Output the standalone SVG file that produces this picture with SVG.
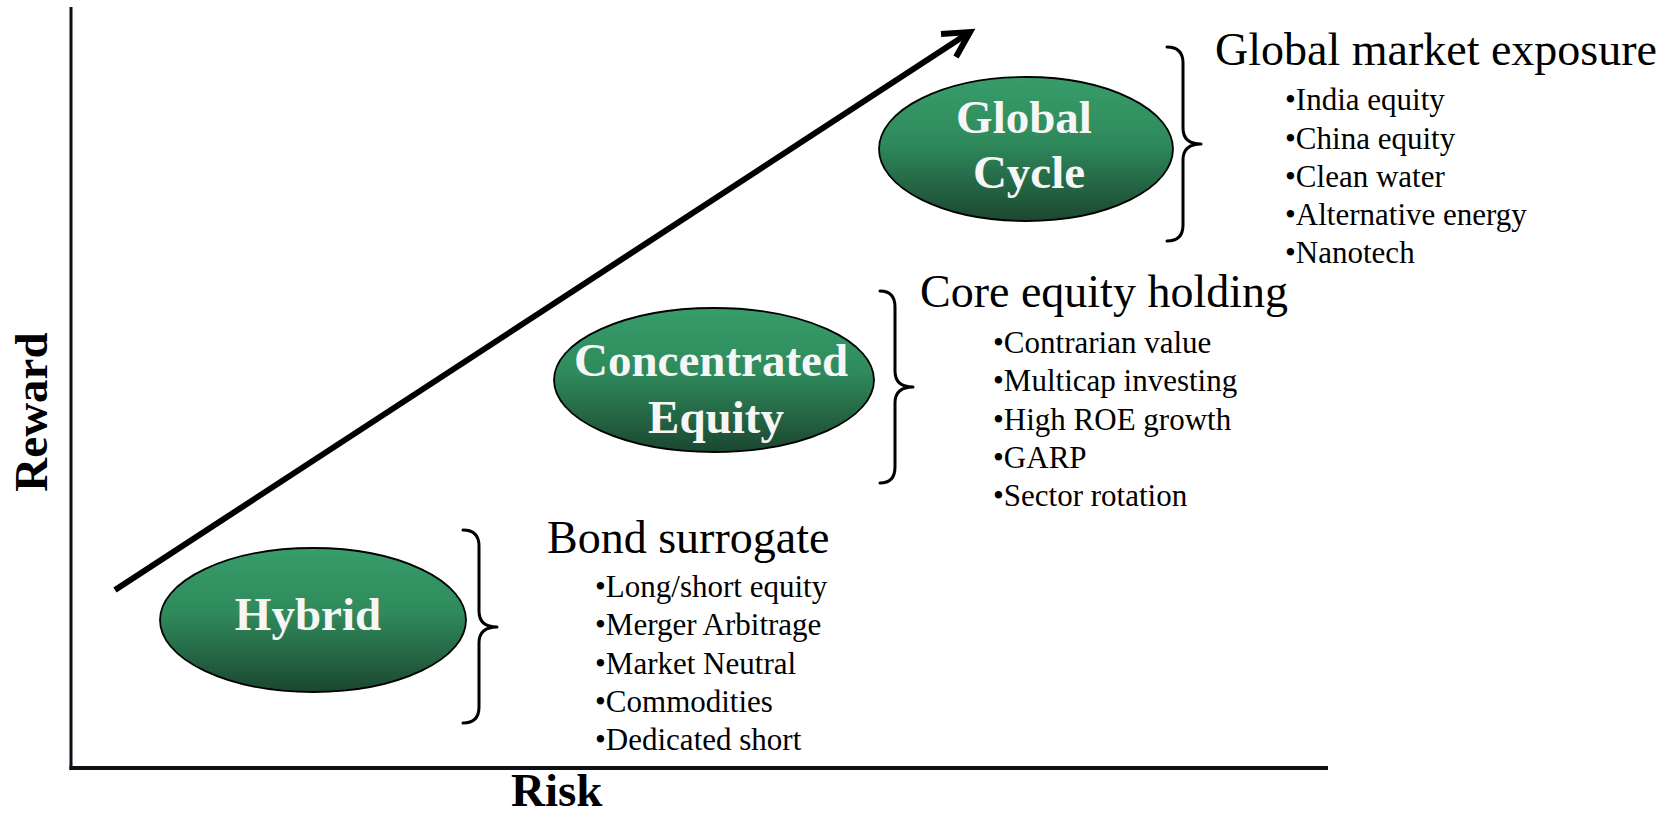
<svg xmlns="http://www.w3.org/2000/svg" width="1677" height="817" viewBox="0 0 1677 817">
<style>
.ax{stroke:#0d1117;fill:none}
.brace{fill:none;stroke:#000;stroke-width:3;stroke-linejoin:round;stroke-linecap:round}
.node ellipse{fill:url(#g);stroke:#000;stroke-width:1.8}
.nt{font-family:"Liberation Serif",serif;font-weight:bold;font-size:47px;fill:#f6f6f6;text-anchor:middle}
.hd{font-family:"Liberation Serif",serif;font-size:46px;fill:#000}
.bl{font-family:"Liberation Serif",serif;font-size:31px;fill:#000}
.axl{font-family:"Liberation Serif",serif;font-weight:bold;font-size:47px;fill:#000}
</style>
<defs>
<linearGradient id="g" x1="0" y1="0" x2="0" y2="1">
<stop offset="0" stop-color="#379d6a"/>
<stop offset="0.45" stop-color="#2f8a5c"/>
<stop offset="1" stop-color="#1b4730"/>
</linearGradient>
</defs>
<rect width="1677" height="817" fill="#fff"/>
<g id="axes">
<line class="ax" x1="71" y1="7" x2="71" y2="770" stroke-width="3"/>
<line class="ax" x1="69.5" y1="768" x2="1328" y2="768" stroke-width="4"/>
<text class="axl" x="511" y="806">Risk</text>
<text class="axl" transform="translate(47,412) rotate(-90)" text-anchor="middle">Reward</text>
</g>
<g id="connectors">
<line x1="115" y1="590" x2="967" y2="34" stroke="#000" stroke-width="6"/>
<polyline points="941,34 970,32 956,57" fill="none" stroke="#000" stroke-width="6" stroke-linejoin="miter"/>
</g>
<g id="hybrid" class="node">
<ellipse cx="313" cy="620" rx="153" ry="72"/>
<text class="nt" x="308" y="630">Hybrid</text>
</g>
<g id="concentrated" class="node">
<ellipse cx="714" cy="380" rx="160" ry="72"/>
<text class="nt" x="711" y="376">Concentrated</text>
<text class="nt" x="716" y="433">Equity</text>
</g>
<g id="global" class="node">
<ellipse cx="1026" cy="149" rx="147" ry="72"/>
<text class="nt" x="1024" y="133">Global</text>
<text class="nt" x="1029" y="188">Cycle</text>
</g>
<g id="hybrid-list">
<path class="brace" d="M463,530 Q479,530 479,546 L479,611 Q479,627 497,627 Q479,627 479,643 L479,707 Q479,723 463,723"/>
<text class="hd" x="547" y="553">Bond surrogate</text>
<text class="bl" x="595" y="597">•Long/short equity</text>
<text class="bl" x="595" y="635">•Merger Arbitrage</text>
<text class="bl" x="595" y="674">•Market Neutral</text>
<text class="bl" x="595" y="712">•Commodities</text>
<text class="bl" x="595" y="750">•Dedicated short</text>
</g>
<g id="concentrated-list">
<path class="brace" d="M880,291 Q895,291 895,307 L895,371 Q895,387 913,387 Q895,387 895,403 L895,467 Q895,483 880,483"/>
<text class="hd" x="920" y="307">Core equity holding</text>
<text class="bl" x="993" y="353">•Contrarian value</text>
<text class="bl" x="993" y="391">•Multicap investing</text>
<text class="bl" x="993" y="430">•High ROE growth</text>
<text class="bl" x="993" y="468">•GARP</text>
<text class="bl" x="993" y="506">•Sector rotation</text>
</g>
<g id="global-list">
<path class="brace" d="M1167,47 Q1183,47 1183,63 L1183,128 Q1183,144 1201,144 Q1183,144 1183,160 L1183,225 Q1183,241 1167,241"/>
<text class="hd" x="1215" y="65">Global market exposure</text>
<text class="bl" x="1285" y="110">•India equity</text>
<text class="bl" x="1285" y="149">•China equity</text>
<text class="bl" x="1285" y="187">•Clean water</text>
<text class="bl" x="1285" y="225">•Alternative energy</text>
<text class="bl" x="1285" y="263">•Nanotech</text>
</g>
</svg>
